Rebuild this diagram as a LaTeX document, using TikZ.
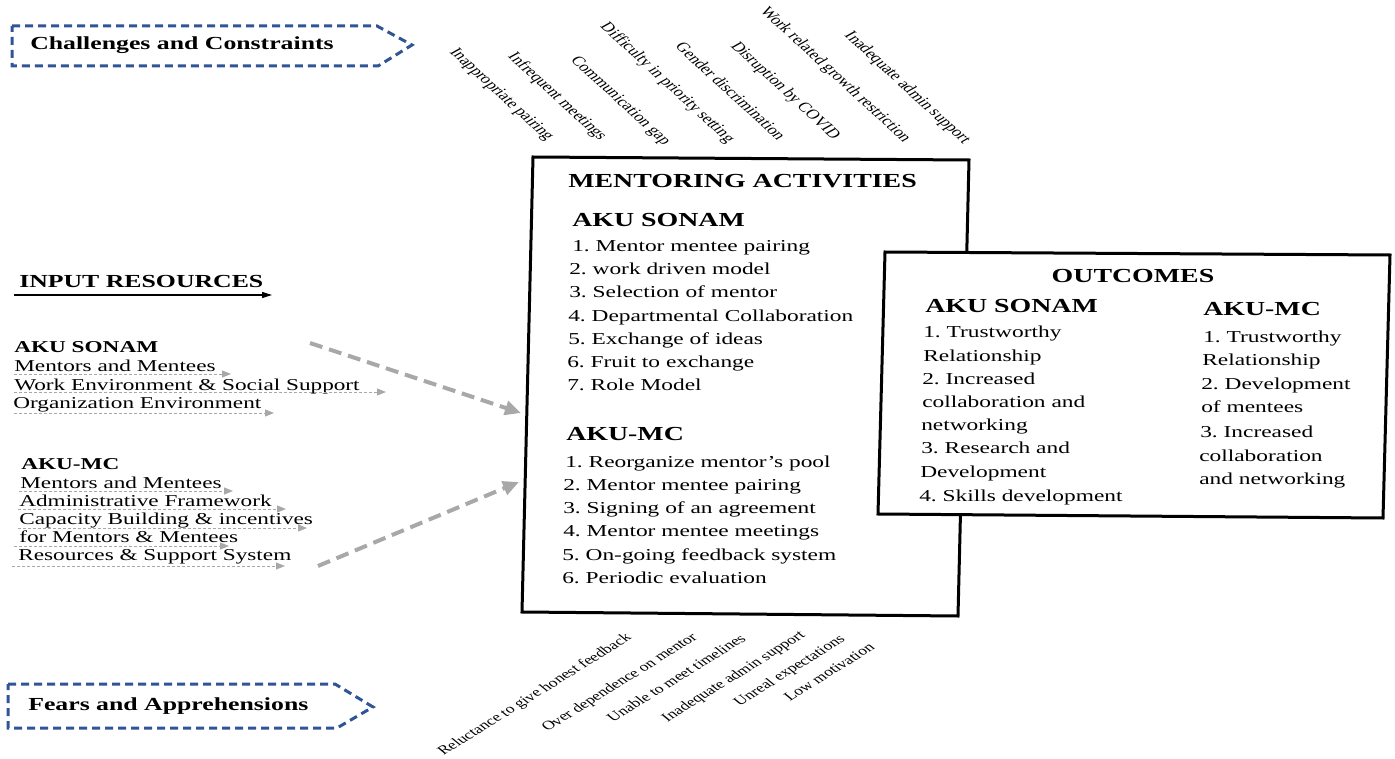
\documentclass[tikz,border=0pt]{standalone}
\usepackage{fontspec}
\setmainfont{Liberation Serif}
\usetikzlibrary{arrows.meta}
\definecolor{dblue}{RGB}{47,85,151}
\definecolor{lgray}{RGB}{168,168,168}
\begin{document}
\begin{tikzpicture}[x=1pt,y=-1pt,
  txt/.style={inner sep=0pt, anchor=west, xscale=1.4, text height=12pt, text depth=3.5pt},
  itm/.style={txt, font=\fontsize{16.7}{20}\selectfont},
  lst/.style={txt, font=\fontsize{16.6}{20}\selectfont},
  lhd/.style={txt, font=\bfseries\fontsize{16.6}{20}\selectfont},
  hd/.style={txt, font=\bfseries\fontsize{19.9}{24}\selectfont, text height=14pt, text depth=4pt},
  bighd/.style={txt, font=\bfseries\fontsize{18.4}{22}\selectfont, text height=13pt, text depth=4pt},
  toplab/.style={inner sep=0pt, anchor=center, xscale=1.4, rotate=-52, font=\fontsize{13.3}{16}\selectfont},
  botlab/.style={inner sep=0pt, anchor=center, xscale=1.4, rotate=41, font=\fontsize{12.6}{15}\selectfont},
  bluedash/.style={draw=dblue, line width=3pt, dash pattern=on 8pt off 5pt},
  thinarrow/.style={draw=lgray, line width=1pt, dash pattern=on 3pt off 2pt, -{Triangle[length=9pt,width=7pt]}},
  thickarrow/.style={draw=lgray, line width=4pt, dash pattern=on 13pt off 7pt, -{Triangle[length=16pt,width=14pt]}},
  boxline/.style={draw=black, line width=3pt}
]
\useasboundingbox (0,0) rectangle (1395,759);

% Challenges and Fears pentagons
\draw[bluedash] (12,26) -- (377,26) -- (412,45) -- (378,66) -- (12,66) -- cycle;
\node[bighd] (chal) at (30,45) {Challenges and Constraints};
\draw[bluedash] (8,684) -- (335,684) -- (373,707) -- (337,728) -- (8,728) -- cycle;
\node[bighd] (fear) at (28,706) {Fears and Apprehensions};

% top labels
\node[toplab] (t1) at (501,95) {Inappropriate pairing};
\node[toplab] (t2) at (557,97) {Infrequent meetings};
\node[toplab] (t3) at (620,101) {Communication gap};
\node[toplab] (t4) at (667,83) {Difficulty in priority setting};
\node[toplab] (t5) at (731,91) {Gender discrimination};
\node[toplab] (t6) at (785,91) {Disruption by COVID};
\node[toplab] (t7) at (835,75) {Work related growth restriction};
\node[toplab] (t8) at (907,88) {Inadequate admin support};

% bottom labels
\node[botlab] (b1) at (535,695) {Reluctance to give honest feedback};
\node[botlab] (b2) at (620,683) {Over dependence on mentor};
\node[botlab] (b3) at (676,678) {Unable to meet timelines};
\node[botlab] (b4) at (734,677) {Inadequate admin support};
\node[botlab] (b5) at (790,671) {Unreal expectations};
\node[botlab] (b6) at (829,672) {Low motivation};

% input resources
\node[bighd] (inp) at (19,283) {INPUT RESOURCES};
\coordinate (ia) at (14,295); \coordinate (ib) at (272,295);
\draw[line width=1.2pt, -{Triangle[length=10pt,width=6pt]}] (ia) -- (ib);

\node[lhd] (ls) at (14,348) {AKU SONAM};
\node[lst] (ls1) at (14,367) {Mentors and Mentees};
\node[lst] (ls2) at (14,386) {Work Environment \& Social Support};
\node[lst] (ls3) at (13,404) {Organization Environment};
\coordinate (a1s) at (14,374); \coordinate (a1e) at (231,374);
\coordinate (a2s) at (14,392); \coordinate (a2e) at (386,392);
\coordinate (a3s) at (14,413); \coordinate (a3e) at (274,413);
\draw[thinarrow] (a1s) -- (a1e);
\draw[thinarrow] (a2s) -- (a2e);
\draw[thinarrow] (a3s) -- (a3e);

\node[lhd] (lm) at (21,465) {AKU-MC};
\node[lst] (lm1) at (20,484) {Mentors and Mentees};
\node[lst] (lm2) at (19,502) {Administrative Framework};
\node[lst] (lm3) at (19,520) {Capacity Building \& incentives};
\node[lst] (lm4) at (19,538) {for Mentors \& Mentees};
\node[lst] (lm5) at (18,556) {Resources \& Support System};
\coordinate (b1s) at (19,491); \coordinate (b1e) at (233,491);
\coordinate (b2s) at (18,509); \coordinate (b2e) at (286,509);
\coordinate (b3s) at (18,528); \coordinate (b3e) at (307,528);
\coordinate (b4s) at (14,546); \coordinate (b4e) at (229,546);
\coordinate (b5s) at (12,566); \coordinate (b5e) at (285,566);
\draw[thinarrow] (b1s) -- (b1e);
\draw[thinarrow] (b2s) -- (b2e);
\draw[thinarrow] (b3s) -- (b3e);
\draw[thinarrow] (b4s) -- (b4e);
\draw[thinarrow] (b5s) -- (b5e);

% mentoring box
\coordinate (m1) at (533,157); \coordinate (m2) at (969,160);
\coordinate (m3) at (958,616); \coordinate (m4) at (522,612);
\draw[boxline] (m1) -- (m2) -- (m3) -- (m4) -- cycle;

\coordinate (k1s) at (310,343); \coordinate (k1e) at (521,413);
\coordinate (k2s) at (318,566); \coordinate (k2e) at (519,482);
\draw[thickarrow] (k1s) -- (k1e);
\draw[thickarrow] (k2s) -- (k2e);

\node[hd] (mt) at (568,183) {MENTORING ACTIVITIES};
\node[hd] (ms) at (572,222) {AKU SONAM};
\node[itm] (ms1) at (572,247) {1.\ Mentor mentee pairing};
\node[itm] (ms2) at (569,270) {2.\ work driven model};
\node[itm] (ms3) at (569,293) {3.\ Selection of mentor};
\node[itm] (ms4) at (568,317) {4.\ Departmental Collaboration};
\node[itm] (ms5) at (568,340) {5.\ Exchange of ideas};
\node[itm] (ms6) at (567,363) {6.\ Fruit to exchange};
\node[itm] (ms7) at (567,386) {7.\ Role Model};
\node[hd] (mm) at (566,435) {AKU-MC};
\node[itm] (mm1) at (565,463) {1.\ Reorganize mentor’s pool};
\node[itm] (mm2) at (563,486) {2.\ Mentor mentee pairing};
\node[itm] (mm3) at (563,509) {3.\ Signing of an agreement};
\node[itm] (mm4) at (563,532) {4.\ Mentor mentee meetings};
\node[itm] (mm5) at (562,556) {5.\ On-going feedback system};
\node[itm] (mm6) at (562,579) {6.\ Periodic evaluation};

% outcomes box
\coordinate (o1) at (885,252); \coordinate (o2) at (1390,255);
\coordinate (o3) at (1383,518); \coordinate (o4) at (878,514);
\filldraw[boxline, fill=white] (o1) -- (o2) -- (o3) -- (o4) -- cycle;

\node[hd, anchor=center] (ot) at (1133,278) {OUTCOMES};
\node[hd] (os) at (925,308) {AKU SONAM};
\node[itm] (os1) at (923,333) {1.\ Trustworthy};
\node[itm] (os2) at (923,357) {Relationship};
\node[itm] (os3) at (922,380) {2.\ Increased};
\node[itm] (os4) at (922,403) {collaboration and};
\node[itm] (os5) at (921,426) {networking};
\node[itm] (os6) at (921,449) {3.\ Research and};
\node[itm] (os7) at (920,473) {Development};
\node[itm] (os8) at (919,497) {4.\ Skills development};
\node[hd] (om) at (1203,311) {AKU-MC};
\node[itm] (om1) at (1203,338) {1.\ Trustworthy};
\node[itm] (om2) at (1202,361) {Relationship};
\node[itm] (om3) at (1201,385) {2.\ Development};
\node[itm] (om4) at (1201,408) {of mentees};
\node[itm] (om5) at (1200,433) {3.\ Increased};
\node[itm] (om6) at (1199,457) {collaboration};
\node[itm] (om7) at (1199,480) {and networking};
\end{tikzpicture}
\end{document}
